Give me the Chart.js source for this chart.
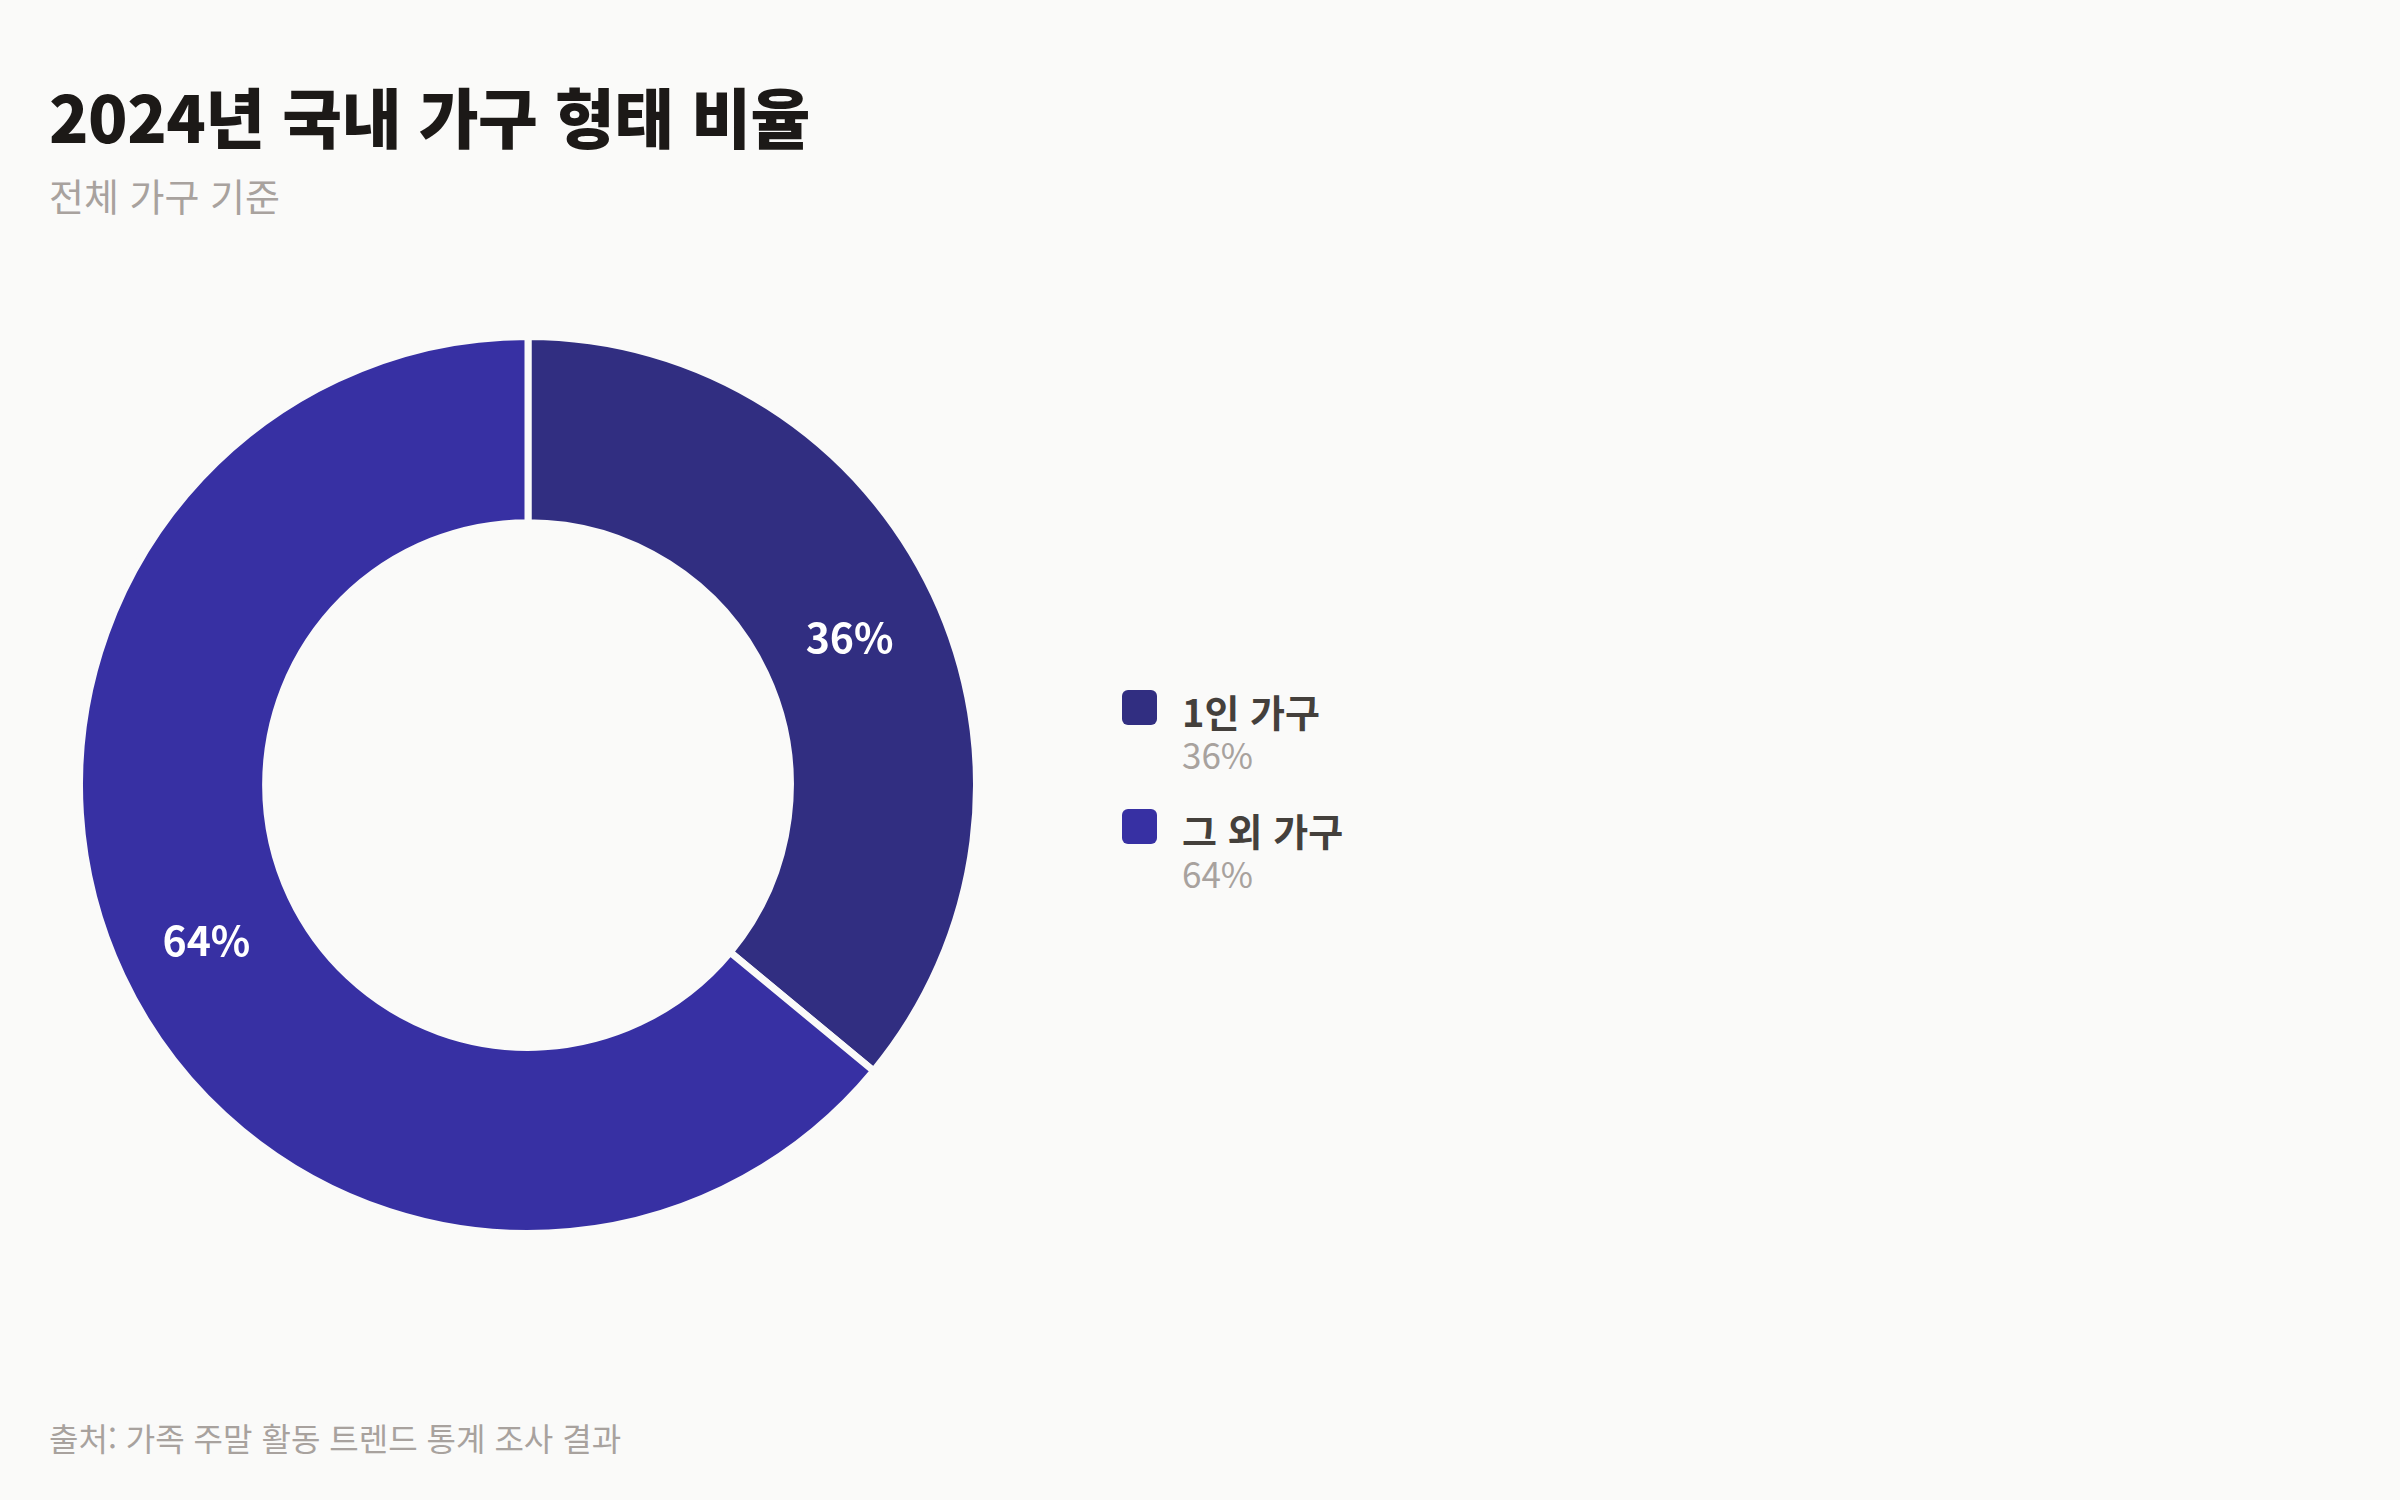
<!DOCTYPE html>
<html lang="ko">
<head>
<meta charset="utf-8">
<title>2024년 국내 가구 형태 비율</title>
<script src="https://cdn.jsdelivr.net/npm/chart.js@4/dist/chart.umd.min.js"></script>
<style>
  html, body { margin: 0; padding: 0; }
  body {
    width: 2400px; height: 1500px; position: relative; overflow: hidden;
    background: #fafaf9;
    font-family: "Noto Sans CJK KR", "Noto Sans", sans-serif;
  }
  #title { position: absolute; left: 49px; top: 76px; margin: 0; font-size: 65px; font-weight: 900; color: #1c1917; line-height: 1.2; letter-spacing: -0.5px; }
  #subtitle { position: absolute; left: 49px; top: 172px; margin: 0; font-size: 38px; font-weight: 400; color: #a8a29e; line-height: 1.2; }
  #chartBox { position: absolute; left: 76px; top: 333px; width: 904px; height: 904px; }
  #legend { position: absolute; left: 1122px; top: 684px; }
  .item { position: relative; height: 119px; }
  .swatch { position: absolute; left: 0; top: 6px; width: 35px; height: 35px; border-radius: 6px; }
  .name { position: absolute; left: 60px; top: 4px; font-size: 38px; font-weight: 700; color: #44403c; white-space: nowrap; line-height: 1.2; }
  .val { position: absolute; left: 60px; top: 49px; font-size: 35px; font-weight: 400; color: #a8a29e; white-space: nowrap; line-height: 1.2; }
  #footer { position: absolute; left: 49px; top: 1418px; margin: 0; font-size: 32px; color: #a8a29e; line-height: 1.2; }
</style>
</head>
<body>
<h1 id="title">2024년 국내 가구 형태 비율</h1>
<p id="subtitle">전체 가구 기준</p>
<div id="chartBox"><canvas id="myChart"></canvas></div>
<div id="legend"></div>
<p id="footer">출처: 가족 주말 활동 트렌드 통계 조사 결과</p>

<script>
// data
const categories = ['1인 가구', '그 외 가구'];
const shares = [36, 64];
const colors = ['#312e81', '#3730a3'];

window.addEventListener('load', setup);

// draws the % text in the middle of each arc
const sliceLabels = {
  id: 'sliceLabels',
  afterDatasetsDraw(chart) {
    const ctx = chart.ctx;
    const meta = chart.getDatasetMeta(0);
    ctx.save();
    ctx.fillStyle = '#ffffff';
    ctx.font = '700 41px "Noto Sans CJK KR", sans-serif';
    ctx.textAlign = 'center';
    ctx.textBaseline = 'middle';
    meta.data.forEach(function (arc, i) {
      const p = arc.tooltipPosition();
      ctx.fillText(shares[i] + '%', p.x, p.y + 4);
    });
    ctx.restore();
  }
};

function setup() {
  const legend = document.getElementById('legend');
  for (let i = 0; i < categories.length; i++) {
    const item = document.createElement('div');
    item.className = 'item';
    item.innerHTML = '<div class="swatch" style="background:' + colors[i] + '"></div>' +
      '<div class="name">' + categories[i] + '</div>' +
      '<div class="val">' + shares[i] + '%</div>';
    legend.appendChild(item);
  }

  const ctx = document.getElementById('myChart').getContext('2d');
  new Chart(ctx, {
    type: 'doughnut',
    data: {
      labels: categories,
      datasets: [{
        data: shares,
        backgroundColor: colors,
        borderColor: '#fafaf9',
        borderWidth: 7,
        hoverOffset: 0
      }]
    },
    options: {
      responsive: true,
      maintainAspectRatio: false,
      animation: false,
      cutout: '58.5%',
      layout: { padding: 0 },
      plugins: {
        legend: { display: false },
        tooltip: { enabled: false }
      }
    },
    plugins: [sliceLabels]
  });
}
</script>
</body>
</html>
